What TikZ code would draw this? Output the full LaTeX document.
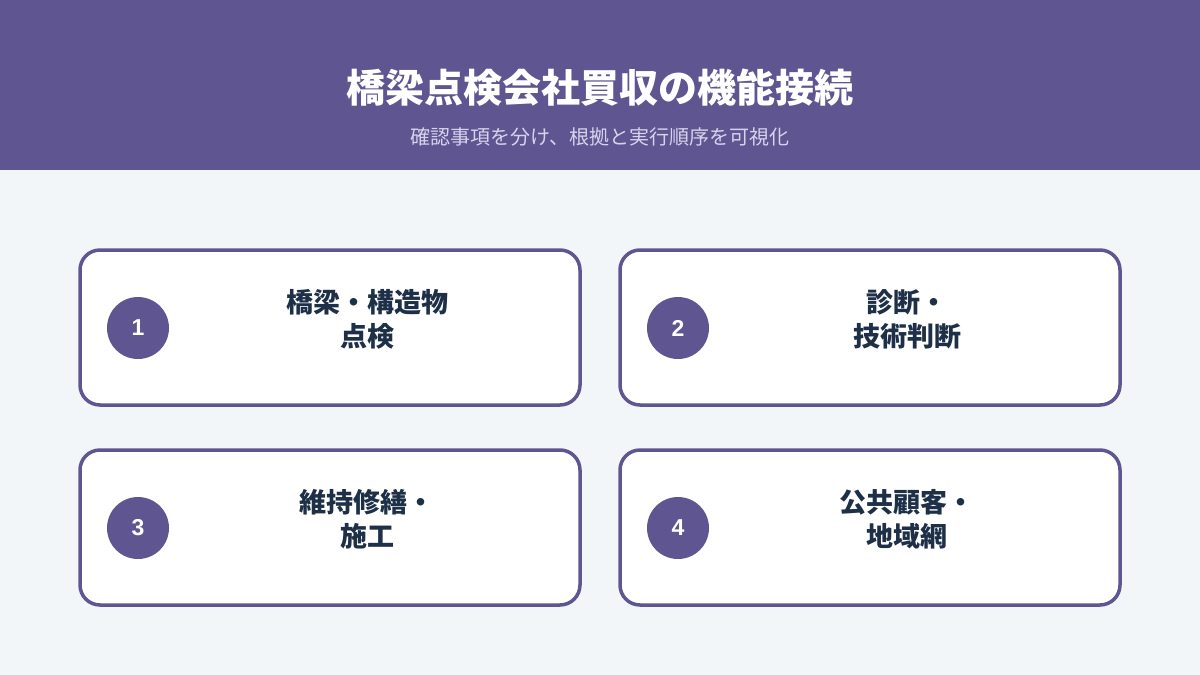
\documentclass[tikz,border=0pt]{standalone}
\usepackage{fontspec}
\newfontfamily\cjk{Noto Sans CJK JP}
\newfontfamily\numf{Liberation Sans}
\definecolor{hdr}{HTML}{5E5591}
\definecolor{bgc}{HTML}{F3F6F8}
\definecolor{txt}{HTML}{1E3048}
\definecolor{subc}{HTML}{D8D3EC}
\tikzset{
  card/.style={draw=hdr, line width=3.5pt, fill=white, rounded corners=20pt},
  badge/.style={circle, fill=hdr, minimum size=62pt, inner sep=0pt, text=white, font=\numf\bfseries\fontsize{23}{26}\selectfont},
  label/.style={text=txt, align=center, font=\cjk\bfseries\fontsize{27}{34}\selectfont}
}
\begin{document}
\begin{tikzpicture}[x=1pt,y=-1pt]
\useasboundingbox (0,0) rectangle (1200,675);
\fill[bgc] (0,0) rectangle (1200,675);
\fill[hdr] (0,0) rectangle (1200,170);
\node[text=white, font=\cjk\bfseries\fontsize{39}{42}\selectfont] (title) at (600,88) {橋梁点検会社買収の機能接続};
\node[text=subc, font=\cjk\fontsize{20}{22}\selectfont] (sub) at (600,137) {確認事項を分け、根拠と実行順序を可視化};
% cards
\draw[card] (80,250) rectangle (580,405);
\draw[card] (620,250) rectangle (1120,405);
\draw[card] (80,450) rectangle (580,605);
\draw[card] (620,450) rectangle (1120,605);
\node[badge] (b1) at (138,328) {1};
\node[badge] (b2) at (678,328) {2};
\node[badge] (b3) at (138,528) {3};
\node[badge] (b4) at (678,528) {4};
\node[label] (t1) at (367,319) {橋梁・構造物\\点検};
\node[label] (t2) at (907,319) {診断・\\技術判断};
\node[label] (t3) at (367,519) {維持修繕・\\施工};
\node[label] (t4) at (907,519) {公共顧客・\\地域網};
\end{tikzpicture}
\end{document}
